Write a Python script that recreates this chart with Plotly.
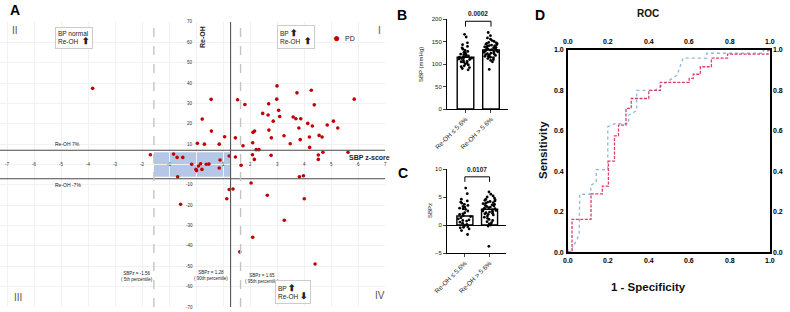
import plotly.graph_objects as go

W, H = 790, 312
def fx(px): return px / W
def fy(py): return 1 - py / H

FONT = "Arial, Liberation Sans, sans-serif"

# ---------------- Panel A data ----------------
pd_sbpz = [0.56, 0.23, 0.57, 0.05, 0.31, 0.86, 1.06, 1.54, 1.81, 1.46, 1.74, 2.11, 2.17, 2.10, 2.23,
           2.33, 2.47, 2.69, 2.67, 2.70, 2.79, 3.00, 2.99, 3.06, 3.10, 2.86, 3.26, 3.49, 3.60, 3.70,
           3.88, 3.74, 3.81, 3.86, 4.14, 4.27, 4.38, 4.31, 4.20, 4.21, 4.56, 4.67, 4.86, 5.09, 5.25,
           5.86, 4.70, 4.53, 4.53, 5.63, 1.46, 1.23, 2.09, 2.16, 2.78, 1.67, 0.89,
           -0.83, -0.70, -0.49, -0.68, -0.16, 0.09, 0.17, 0.00, 0.02, 0.22, 0.38, 0.48, 0.86,
           -1.69, -3.83, -0.57, 3.83, 3.98, 2.04, 1.23, 1.37, 1.14, 2.64, 4.01, 3.27, 2.10, 1.62, 4.41]
pd_reoh = [32.0, 22.3, 16.4, 10.4, 10.0, 10.0, 13.6, 31.8, 29.5, 13.1, 9.2, 15.8, 16.4, 10.7, 7.3,
           7.3, 25.1, 29.8, 24.3, 16.9, 13.1, 38.6, 32.1, 26.6, 23.6, 21.3, 14.1, 10.2, 23.3, 22.5,
           22.5, 35.2, 17.9, 12.2, 20.2, 36.5, 29.3, 18.9, 13.5, 8.4, 14.3, 13.5, 19.4, 21.3, 17.9,
           32.1, 6.0, 4.7, 2.5, 6.0, 3.7, 4.2, 4.8, 2.5, 4.5, -0.4, 2.2,
           5.1, 3.5, 3.5, -6.0, 0.1, -0.7, 0.4, -2.4, -3.0, -2.4, 0.1, 0.2, -1.7,
           4.8, 37.4, -19.5, -6.0, -5.5, -9.1, -12.3, -12.0, -16.8, -15.1, -16.8, -27.4, -35.7, -42.9, -48.9]
a_xticks = [-7, -6, -5, -4, -3, -2, -1, 1, 2, 3, 4, 5, 6, 7]
a_yticks = [70, 60, 50, 40, 30, 20, 10, -10, -20, -30, -40, -50, -60, -70]
reoh_limits = [7, -7]
reoh_limit_labels = ["Re-OH 7%", "Re-OH -7%"]
sbpz_cut_solid = 1.28
sbpz_cut_dashed = [-1.56, 1.65]
sbpz_cut_labels = {-1.56: "SBPz = -1.56<br>( 5th percentile)",
                   1.28: "SBPz = 1.28<br>( 90th percentile)",
                   1.65: "SBPz = 1.65<br>( 95th percentile)"}
normal_zone_x = [-1.56, 1.28]
normal_zone_y = [-6, 6]
legend_label = "PD"

# ---------------- Panel B / C data ----------------
groups = ["Re-OH ≤ 5.6%", "Re-OH > 5.6%"]
sbp_g1 = [166, 160, 147, 143, 139, 136, 133, 130, 128, 126, 124, 122, 121, 120, 118, 117, 116, 115,
          114, 113, 112, 111, 110, 108, 106, 105, 104, 102, 100, 98, 96, 94, 92, 90, 87]
sbp_g2 = [170, 163, 158, 155, 152, 150, 148, 147, 146, 145, 144, 143, 142, 141, 140, 139, 138, 137,
          136, 135, 134, 133, 132, 131, 130, 130, 129, 128, 127, 126, 125, 124, 123, 122, 121, 120,
          119, 118, 117, 116, 115, 114, 112, 110, 108, 105, 88]
sbp_means = [115, 131]
sbp_p = "0.0002"
sbpz_g1 = [6.6, 5.6, 4.6, 4.3, 4.1, 3.9, 3.7, 3.5, 3.3, 3.2, 3.0, 2.9, 2.8, 2.5, 2.2, 2.0, 1.9, 1.7,
           1.5, 1.3, 1.1, 0.9, 0.8, 0.7, 0.5, 0.3, 0.1, -0.1, -0.3, -0.4, -0.5, -0.7, -1.0, -1.7]
sbpz_g2 = [5.9, 5.5, 5.2, 5.0, 4.8, 4.6, 4.5, 4.4, 4.3, 4.2, 4.1, 4.0, 3.9, 3.8, 3.7, 3.6, 3.5, 3.4,
           3.3, 3.2, 3.1, 3.0, 2.9, 2.8, 2.7, 2.6, 2.5, 2.4, 2.3, 2.2, 2.1, 2.0, 1.9, 1.8, 1.6, 1.4,
           1.2, 1.0, 0.8, 0.6, 0.4, 0.2, 0.0, -0.2, -3.8]
sbpz_means = [1.6, 2.8]
sbpz_p = "0.0107"

# ---------------- Panel D data ----------------
roc_red_fpr = [0, 0.02, 0.114, 0.17, 0.20, 0.23, 0.25, 0.287, 0.313, 0.40, 0.457, 0.60, 0.62, 0.655, 0.71, 0.79, 0.99, 1.0]
roc_red_tpr = [0, 0.162, 0.288, 0.326, 0.45, 0.575, 0.628, 0.711, 0.76, 0.80, 0.84, 0.86, 0.88, 0.917, 0.96, 0.98, 1.0, 1.0]
roc_blue_fpr = [0, 0, 0.02, 0.055, 0.058, 0.113, 0.113, 0.14, 0.14, 0.197, 0.197, 0.233, 0.30, 0.30, 0.34, 0.34,
                0.43, 0.54, 0.57, 0.687, 0.687, 0.967, 0.967, 1.0]
roc_blue_tpr = [0, 0.015, 0.015, 0.083, 0.286, 0.286, 0.33, 0.347, 0.408, 0.408, 0.62, 0.635, 0.635, 0.678, 0.70, 0.80,
                0.80, 0.876, 0.96, 0.96, 0.984, 0.984, 1.0, 1.0]
roc_ticks = [0, 0.2, 0.4, 0.6, 0.8, 1.0]
roc_ticktext = ["0.0", "0.2", "0.4", "0.6", "0.8", "1.0"]

fig = go.Figure()

fig.add_trace(go.Scatter(x=pd_sbpz, y=pd_reoh, mode="markers", name=legend_label,
                         marker=dict(color="#c00000", size=3.6), xaxis="x", yaxis="y",
                         showlegend=False, cliponaxis=False))

fig.add_trace(go.Bar(x=[0, 1], y=sbp_means, width=0.65, xaxis="x2", yaxis="y2", showlegend=False,
                     marker=dict(color="white", line=dict(color="black", width=1.4))))
fig.add_trace(go.Box(x=[0] * len(sbp_g1) + [1] * len(sbp_g2), y=sbp_g1 + sbp_g2, xaxis="x2", yaxis="y2",
                     boxpoints="all", jitter=0.9, pointpos=0, width=0.62, showlegend=False,
                     fillcolor="rgba(0,0,0,0)", line=dict(color="rgba(0,0,0,0)", width=0),
                     marker=dict(color="black", size=2.8)))
fig.add_trace(go.Bar(x=[0, 1], y=sbpz_means, width=0.65, xaxis="x3", yaxis="y3", showlegend=False,
                     marker=dict(color="white", line=dict(color="black", width=1.4))))
fig.add_trace(go.Box(x=[0] * len(sbpz_g1) + [1] * len(sbpz_g2), y=sbpz_g1 + sbpz_g2, xaxis="x3", yaxis="y3",
                     boxpoints="all", jitter=0.9, pointpos=0, width=0.62, showlegend=False,
                     fillcolor="rgba(0,0,0,0)", line=dict(color="rgba(0,0,0,0)", width=0),
                     marker=dict(color="black", size=2.8)))

fig.add_trace(go.Scatter(x=roc_blue_fpr, y=roc_blue_tpr, mode="lines", xaxis="x4", yaxis="y4", showlegend=False,
                         line=dict(color="#8fb6e3", width=1.3, dash="dot")))
fig.add_trace(go.Scatter(x=roc_red_fpr, y=roc_red_tpr, mode="lines", xaxis="x4", yaxis="y4", showlegend=False,
                         line=dict(color="#d9406c", width=1.3, dash="3px,1.5px", shape="hv")))

shapes = []
shapes.append(dict(type="rect", xref="x", yref="y", x0=normal_zone_x[0], x1=normal_zone_x[1],
                   y0=normal_zone_y[0], y1=normal_zone_y[1], fillcolor="#b4c7e7", line=dict(width=0), layer="below"))
for yv in reoh_limits:
    shapes.append(dict(type="line", xref="x", yref="y", x0=-7.26, x1=7.0, y0=yv, y1=yv,
                       line=dict(color="#4a4a4a", width=1.2)))
shapes.append(dict(type="line", xref="x", yref="y", x0=sbpz_cut_solid, x1=sbpz_cut_solid, y0=-70, y1=70,
                   line=dict(color="#555555", width=1.1)))
for xv in sbpz_cut_dashed:
    shapes.append(dict(type="line", xref="x", yref="y", x0=xv, x1=xv, y0=-70, y1=70,
                       line=dict(color="#c4c4c4", width=1.4, dash="dash")))
shapes.append(dict(type="path", xref="x2", yref="y2", path="M 0,183 L 0,195 L 1,195 L 1,183",
                   line=dict(color="black", width=1)))
shapes.append(dict(type="path", xref="x3", yref="y3", path="M 0,7.7 L 0,8.6 L 1,8.6 L 1,7.7",
                   line=dict(color="black", width=1)))

ann = []
def A(text, x, y, size=7, color="#222", xanchor="center", yanchor="middle", xref="paper", yref="paper", **kw):
    ann.append(dict(text=text, x=x, y=y, xref=xref, yref=yref, showarrow=False,
                    font=dict(size=size, color=color, family=FONT), xanchor=xanchor, yanchor=yanchor, **kw))

for v in a_xticks:
    A(str(v), v, 0, size=4.5, color="#333", xref="x", yref="y")
for v in a_yticks:
    A(str(v), 0, v, size=4.5, color="#333", xref="x", yref="y", xanchor="right", xshift=-1)
for yv, lab in zip(reoh_limits, reoh_limit_labels):
    A(lab, -4.75, yv, size=5, xref="x", yref="y",
      yanchor="bottom" if yv > 0 else "top", yshift=1 if yv > 0 else -1)
cut_pos = {-1.56: (137, 276), 1.28: (211, 275), 1.65: (262, 278)}
for k, t in sbpz_cut_labels.items():
    A(t, fx(cut_pos[k][0]), fy(cut_pos[k][1]), size=4.5)

A("<b>A</b>", fx(15), fy(10), size=14, color="black")
A("<b>B</b>", fx(402), fy(15), size=14, color="black")
A("<b>C</b>", fx(403), fy(173), size=14, color="black")
A("<b>D</b>", fx(540), fy(15), size=14, color="black")
A("II", fx(15), fy(31), size=10, color="#555")
A("I", fx(379), fy(31), size=10, color="#555")
A("III", fx(18), fy(297), size=10, color="#555")
A("IV", fx(380), fy(295), size=10, color="#555")
A("<b>SBP z-score</b>", fx(347), fy(157), size=7, xanchor="left")
A("<b>Re-OH</b>", fx(202), fy(37), size=7, textangle=-90)
ARW_UP = "<span style='font-size:9px'><b>⬆</b></span>"
ARW_DN = "<span style='font-size:9px'><b>⬇</b></span>"
A("BP normal<br>Re-OH  " + ARW_UP, fx(74), fy(38), size=6.5, align="left",
  bgcolor="white", bordercolor="#cccccc", borderwidth=1, borderpad=2)
A("BP " + ARW_UP + "<br>Re-OH  " + ARW_UP, fx(296), fy(37), size=6.5, align="left",
  bgcolor="white", bordercolor="#cccccc", borderwidth=1, borderpad=2)
A("BP " + ARW_UP + "<br>Re-OH " + ARW_DN, fx(293), fy(292), size=6.5, align="left",
  bgcolor="white", bordercolor="#cccccc", borderwidth=1, borderpad=2)
A("●", fx(336), fy(38), size=12, color="#c00000")
A(legend_label, fx(343), fy(38), size=7, xanchor="left")

A("SBP (mmHg)", fx(421), fy(64), size=6, textangle=-90)
A("SBPz", fx(430), fy(211), size=6, textangle=-90)
A("<b>" + sbp_p + "</b>", 0.5, fy(14), size=6.5, xref="x2")
A("<b>" + sbpz_p + "</b>", 0.5, fy(169), size=6.5, xref="x3")

for v, t in zip(roc_ticks, roc_ticktext):
    lab = "<b>" + t + "</b>"
    A(lab, v, fy(42), size=7, color="black", xref="x4")
    A(lab, v, fy(260), size=7, color="black", xref="x4")
    A(lab, fx(778), v, size=7, color="black", yref="y4")
    A(lab, fx(559), v, size=7, color="black", yref="y4")
A("<b>ROC</b>", fx(648), fy(14), size=10, color="#111")
A("<b>1 - Specificity</b>", fx(648), fy(287), size=11.5, color="#111")
A("<b>Sensitivity</b>", fx(543), fy(150), size=11.5, color="#111", textangle=-90)

axA = dict(showline=False, zeroline=False, showticklabels=False, ticks="", showgrid=True,
           gridcolor="#f1f1f1", gridwidth=1, automargin=False)
small_tick = dict(size=6, color="#222", family=FONT)
cat_tick = dict(size=6.5, color="#222", family=FONT)

fig.update_layout(
    width=W, height=H, margin=dict(l=0, r=0, t=0, b=0, autoexpand=False),
    paper_bgcolor="white", plot_bgcolor="white",
    font=dict(family=FONT, color="#222"),
    showlegend=False,
    xaxis=dict(domain=[fx(0), fx(385)], range=[-7.26, 7.0], dtick=1, anchor="y", **axA),
    yaxis=dict(domain=[fy(307), fy(22)], range=[-70, 70], dtick=10, anchor="x", **axA),
    xaxis2=dict(domain=[fx(447), fx(508)], range=[-0.725, 1.667], tickvals=[0, 1], ticktext=groups,
                tickangle=-45, ticks="outside", ticklen=3, showline=True, linecolor="black", linewidth=1,
                showgrid=False, zeroline=False, anchor="y2", tickfont=cat_tick, automargin=False),
    yaxis2=dict(domain=[fy(109), fy(19)], range=[0, 200], tickvals=[0, 50, 100, 150, 200], ticks="outside",
                ticklen=3, showline=True, linecolor="black", linewidth=1, showgrid=False, zeroline=False,
                anchor="x2", tickfont=small_tick, automargin=False),
    xaxis3=dict(domain=[fx(447), fx(506)], range=[-0.725, 1.667], tickvals=[0, 1], ticktext=groups,
                tickangle=-45, ticks="outside", ticklen=3, showline=True, linecolor="black", linewidth=1,
                showgrid=False, zeroline=False, anchor="y3", tickfont=cat_tick, automargin=False),
    yaxis3=dict(domain=[fy(253), fy(169)], range=[-5, 10], tickvals=[-5, 0, 5, 10], ticks="outside",
                ticklen=3, showline=True, linecolor="black", linewidth=1, showgrid=False, zeroline=True,
                zerolinecolor="black", zerolinewidth=1, anchor="x3", tickfont=small_tick, automargin=False),
    xaxis4=dict(domain=[fx(568), fx(770)], range=[0, 1], showticklabels=False,
                showline=True, linecolor="black", linewidth=2, mirror=True, ticks="", showgrid=False,
                zeroline=False, anchor="y4", automargin=False),
    yaxis4=dict(domain=[fy(252), fy(50)], range=[0, 1], showticklabels=False,
                showline=True, linecolor="black", linewidth=2, mirror=True, ticks="", showgrid=False,
                zeroline=False, anchor="x4", automargin=False),
    shapes=shapes, annotations=ann, boxmode="overlay",
)

fig.write_html("out.html", config={"displayModeBar": False},
               post_script="document.body.style.margin='0';document.body.style.padding='0';")
